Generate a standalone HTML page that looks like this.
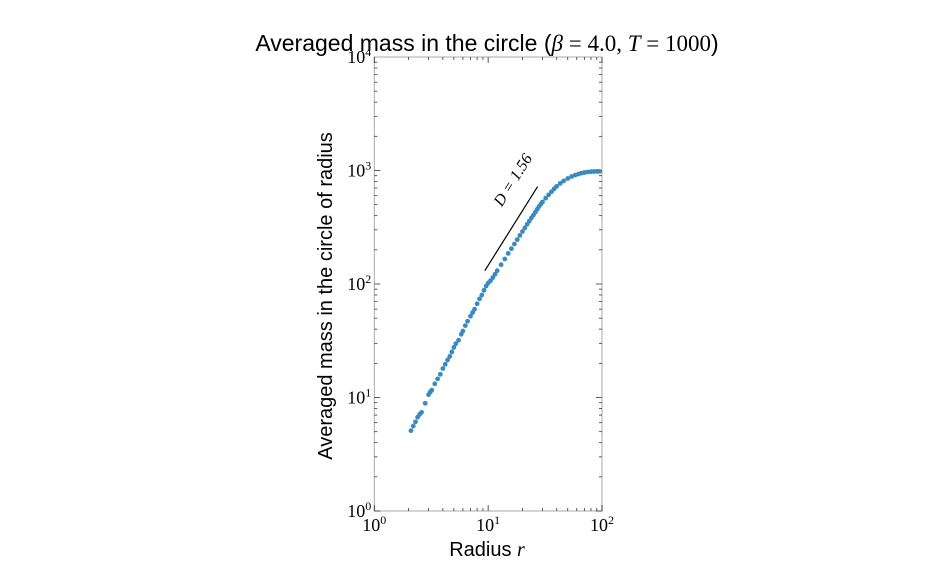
<!DOCTYPE html>
<html><head><meta charset="utf-8"><style>
html,body{margin:0;padding:0;background:#fff;}
svg{display:block;}
.sans{font-family:"Liberation Sans",sans-serif;}
.serif{font-family:"Liberation Serif",serif;}
</style></head><body>
<svg id="chart" width="952" height="568" viewBox="0 0 952 568">
<text class="sans" x="487" y="51" text-anchor="middle" font-size="23">Averaged mass in the circle (<tspan class="serif" font-style="italic">β</tspan><tspan class="serif"> = 4.0, </tspan><tspan class="serif" font-style="italic">T</tspan><tspan class="serif"> = 1000</tspan>)</text>
<text class="sans" transform="translate(332,296) rotate(-90)" text-anchor="middle" font-size="20">Averaged mass in the circle of radius</text>
<text class="sans" x="487" y="556" text-anchor="middle" font-size="20">Radius <tspan class="serif" font-style="italic">r</tspan></text>
<g id="axes"></g>
<g id="marks"></g>
</svg>
<script>
const radii = [2.1,2.2,2.3,2.4,2.5,2.6,2.8,3.0,3.1,3.2,3.4,3.6,3.8,4.0,4.2,4.4,4.6,4.8,5.0,5.2,5.5,5.8,6.0,6.3,6.6,7.0,7.3,7.6,8.0,8.4,8.8,9.2,9.6,10,10.5,11,11.5,12,13,14,15,16,17,18,19,20,21,22,23,24,25,26,27,28,29,30,32,34,36,38,40,43,46,50,54,58,62,66,70,75,80,85,90,95];
const masses = [5.1,5.6,6.1,6.7,7.1,7.4,8.9,10.6,11.2,11.6,13.2,14.6,16.0,18.0,19.6,21.4,23.0,25.2,27.6,29.8,32.0,36.0,38.5,43,47,52,56,60,67,74,80,88,96,102,107,114,122,131,148,166,186,205,225,246,268,290,312,336,358,383,405,430,456,482,505,528,570,610,650,690,725,770,810,850,885,910,930,948,960,970,976,980,982,982];
const fitR = [9.35, 27.2];
const fitM = [131, 722];
const fitLabel = "D = 1.56";
const xTicks = [0,1,2];
const yTicks = [0,1,2,3,4];

const L=374.3,R=602,T=57,B=511;
const xs=v=>L+(Math.log10(v)-0)/2*(R-L);
const ys=v=>B-(Math.log10(v))/4*(B-T);
const NS="http://www.w3.org/2000/svg";
const axes=document.getElementById('axes'), marks=document.getElementById('marks');
function mk(tag,attrs,parent){const e=document.createElementNS(NS,tag);for(const k in attrs)e.setAttribute(k,attrs[k]);parent.appendChild(e);return e;}

const frame=mk('rect',{x:L,y:T,width:R-L,height:B-T,fill:'none',stroke:'#aaa','stroke-width':1},axes);



for(let d=0;d<2;d++){for(let k=1;k<=10;k++){const v=k*Math.pow(10,d);if(k==10&&d<1)continue;const x=xs(v);const len=(k==1||k==10)?6:3;
mk('line',{x1:x,y1:B,x2:x,y2:B-len,stroke:'#333','stroke-width':0.8},axes);
mk('line',{x1:x,y1:T,x2:x,y2:T+len,stroke:'#333','stroke-width':0.8},axes);}}
mk('line',{x1:R,y1:B,x2:R,y2:B-6,stroke:'#333'},axes);
for(let d=0;d<4;d++){for(let k=1;k<10;k++){const v=k*Math.pow(10,d);const y=ys(v);const len=k==1?6:3;
mk('line',{x1:L,y1:y,x2:L+len,y2:y,stroke:'#333','stroke-width':0.8},axes);
mk('line',{x1:R,y1:y,x2:R-len,y2:y,stroke:'#333','stroke-width':0.8},axes);}}

xTicks.forEach(p=>{const t=mk('text',{x:xs(Math.pow(10,p)),y:B+20,'text-anchor':'middle','font-size':18,class:'serif'},axes);


t.textContent='10';const s=mk('tspan',{dy:-7,'font-size':12},t);s.textContent=p;});
yTicks.forEach(p=>{const t=mk('text',{x:L-3,y:ys(Math.pow(10,p))+6,'text-anchor':'end','font-size':18,class:'serif'},axes);


t.textContent='10';const s=mk('tspan',{dy:-7,'font-size':12},t);s.textContent=p;});

radii.forEach((r,i)=>{const c=mk('circle',{cx:xs(r),cy:ys(masses[i]),r:2.4,fill:'#3a8ac2'},marks);

});

const fl=mk('line',{x1:xs(fitR[0]),y1:ys(fitM[0]),x2:xs(fitR[1]),y2:ys(fitM[1]),stroke:'#000','stroke-width':1.2},marks);


const ang=Math.atan2(ys(fitM[1])-ys(fitM[0]),xs(fitR[1])-xs(fitR[0]))*180/Math.PI;
const cx=(xs(fitR[0])+xs(fitR[1]))/2+6, cy=(ys(fitM[0])+ys(fitM[1]))/2-46;
const lab=mk('text',{x:cx,y:cy,'text-anchor':'middle','font-size':16,class:'serif','font-style':'italic',transform:`rotate(${ang},${cx},${cy})`},marks);


lab.textContent=fitLabel;
</script>
</body></html>
